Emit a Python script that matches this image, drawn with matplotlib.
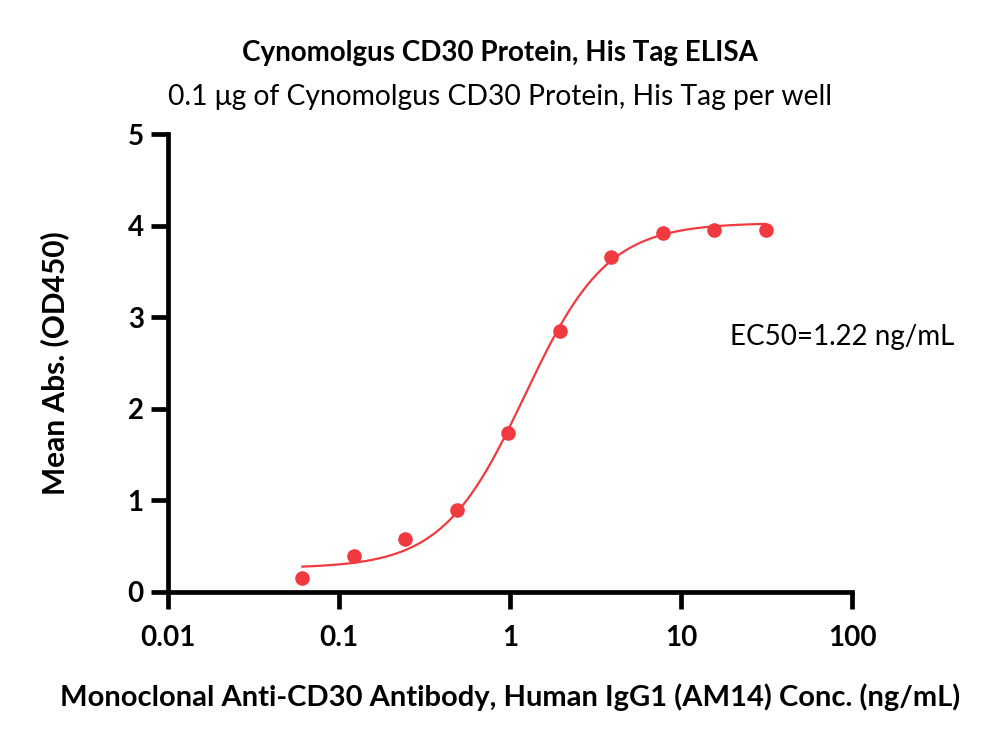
import numpy as np
import matplotlib
matplotlib.use('Agg')
import matplotlib.pyplot as plt

plt.rcParams['font.family'] = ['Lato', 'DejaVu Sans']

# Concentracion (ng/mL) y absorbancia media
conc = [0.061, 0.122, 0.244, 0.488, 0.977, 1.953, 3.906, 7.813, 15.625, 31.25]
od450 = [0.15, 0.39, 0.58, 0.89, 1.74, 2.85, 3.66, 3.92, 3.95, 3.95]

# Parametros del ajuste 4PL
bottom = 0.26
top = 4.03
ec50 = 1.22
hill = 1.8

xticks = [0.01, 0.1, 1, 10, 100]
xtick_labels = ['0.01', '0.1', '1', '10', '100']
yticks = [0, 1, 2, 3, 4, 5]

red = '#F03A40'

fig = plt.figure(figsize=(10, 7.47), dpi=100)
ax = fig.add_axes([0.168, 0.2075, 0.684, 0.6131])

xfit = np.logspace(np.log10(conc[0]), np.log10(conc[-1]), 300)
yfit = bottom + (top - bottom) / (1 + (ec50 / xfit) ** hill)
ax.plot(xfit, yfit, color=red, lw=1.6, zorder=2)
ax.plot(conc, od450, 'o', color=red, ms=10.5, mec='none', zorder=3, clip_on=False)

ax.set_xscale('log')
ax.set_xlim(0.01, 100)
ax.set_ylim(0, 5)
ax.set_xticks(xticks)
ax.set_xticklabels(xtick_labels)
ax.minorticks_off()
ax.set_yticks(yticks)

for s in ['top', 'right']:
    ax.spines[s].set_visible(False)
for s in ['left', 'bottom']:
    ax.spines[s].set_linewidth(3.4)
ax.tick_params(width=3.4, length=12.5, labelsize=20, pad=5)
for lbl in ax.get_xticklabels() + ax.get_yticklabels():
    lbl.set_fontweight('bold')
ax.tick_params(axis='x', pad=11)

ax.set_xlabel('Monoclonal Anti-CD30 Antibody, Human IgG1 (AM14) Conc. (ng/mL)',
              fontsize=21, fontweight='bold', va='center')
ax.xaxis.set_label_coords(0.5, -0.229)
ax.set_ylabel('Mean Abs. (OD450)', fontsize=21.5, fontweight='bold', va='center')
ax.yaxis.set_label_coords(-0.165, 0.5)

ax.text(0.822, 0.557, 'EC50=1.22 ng/mL', transform=ax.transAxes, fontsize=20, va='center')

fig.text(0.5, 0.929, 'Cynomolgus CD30 Protein, His Tag ELISA', ha='center', va='center',
         fontsize=20, fontweight='bold')
fig.text(0.5, 0.870, '0.1 μg of Cynomolgus CD30 Protein, His Tag per well', ha='center', va='center',
         fontsize=20.3)

plt.savefig('out.png', dpi=100)
